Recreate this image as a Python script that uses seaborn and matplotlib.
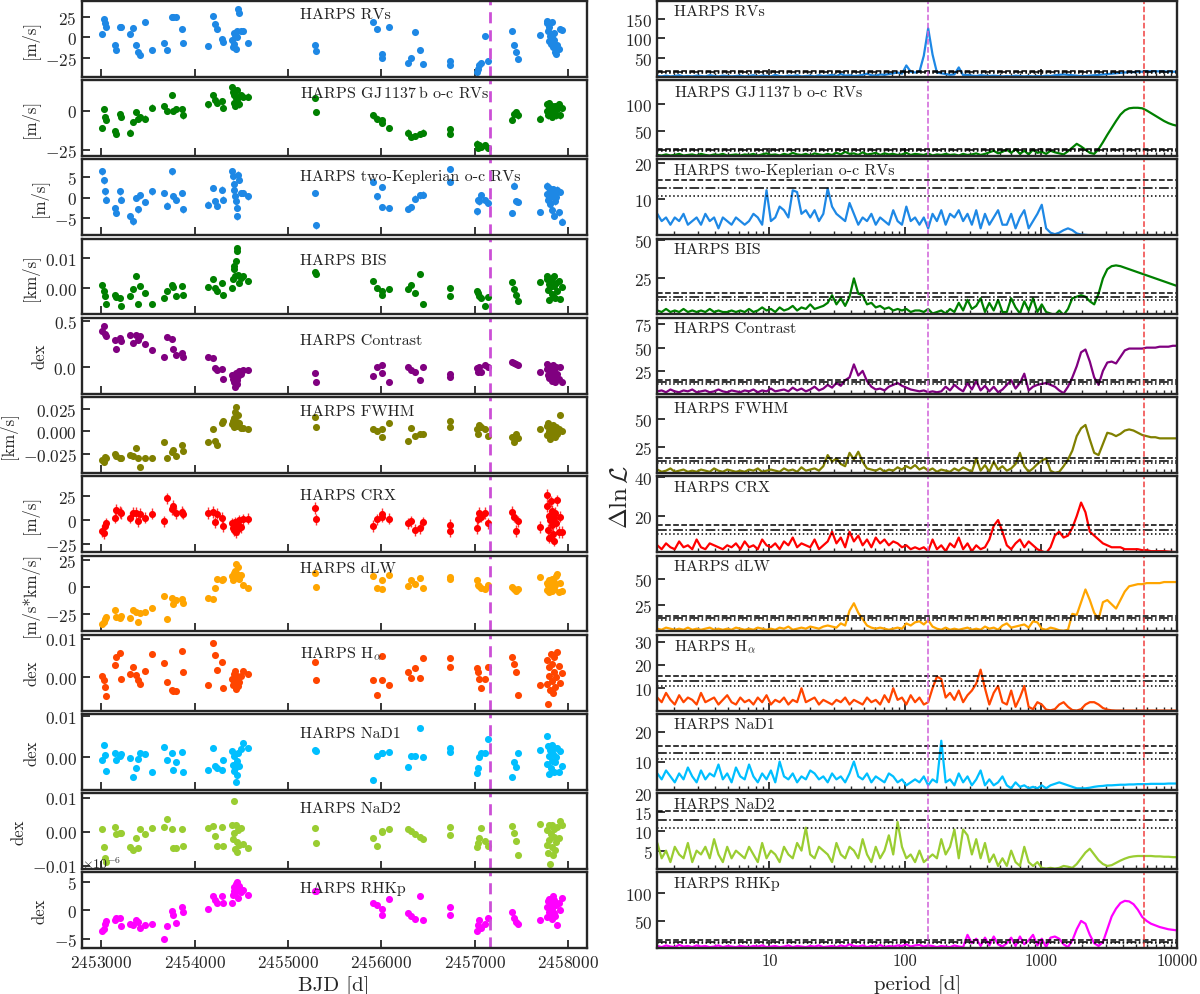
import numpy as np
import pandas as pd
import seaborn as sns
import matplotlib.pyplot as plt
from matplotlib.ticker import MultipleLocator, FuncFormatter

# --- time series (BJD - 2453000) shared by all activity indicators ---
bjd_off = [12, 25, 40, 55, 145, 155, 200, 210, 310, 345, 378, 395, 415, 465, 545,
           676, 700, 755, 770, 797, 862, 880, 1141, 1203, 1215, 1236, 1294, 1307,
           1405, 1412, 1420, 1428, 1436, 1444, 1452, 1460, 1470, 1480, 1494, 1523, 1572,
           2294, 2300, 2917, 2958, 3005, 3010, 3083, 3290, 3319, 3361, 3411, 3452,
           3734, 3740, 4024, 4035, 4050, 4066, 4108, 4141, 4398, 4420, 4440, 4461,
           4701, 4772, 4780, 4788, 4795, 4802, 4810, 4818, 4825, 4832, 4840, 4848,
           4855, 4863, 4872, 4885, 4900, 4920, 4937]

rv = [4, 22, 17, 13, -10, -16, 13, 12, 4, 11, -9, -18, -22, 19, -15,
      -7, -16, 25, 24, 25, 10, -7, -11, 26, 16, 10, -2, -6,
      -3, -12, 5, -8, 3, -14, 7, 0, 34, 30, 8, 7, -7,
      -9, -17, 18, 10, -20, -25, 13, -31, -25, 6, -15, -32,
      -29, -34, -42, -38, -34, -31, 2, -29, 8, -10, -18, -26,
      3, 20, 17, 8, -5, 13, 2, -8, 18, 0, -12, 5, -3, -18, -20, -10, -14, 10, 9]
oc = [-11, 1, -4, -6, -13, -15, -2, -4, -14, -7, -1, -5, -4, -5, 2,
      3, 0, 10, 0, 1, 1, -3, 4, 10, 7, 5, 6, 2,
      15, 12, 10, 5, 3, 8, 13, 6, 9, 4, 10, 9, 9,
      8, -1, -3, -5, -8, -6, -11, -14, -17, -16, -15, -14,
      -12, -15, -21, -24, -22, -23, -22, -24, -6, -2, -1, -3,
      -5, 4, 0, -3, 2, 5, -2, 1, 3, -4, 0, 2, -1, 3, -3, 1, 4, -3, 2]
twok = [6.5, 4.3, 1.6, -0.4, -2.4, -3.7, 1.6, -0.4, -4.5, -5.7, 0.0, -2.8, 0.6, -1.0, 1.6,
        1.2, -1.9, 6.5, 0.4, -0.4, 1.2, -2.8, -1.6, 2.4, -0.8, -2.0, 2.0, -0.4,
        6.5, 5.3, 3.3, 2.0, 0.4, -0.8, -2.4, -4.5, 5.7, 4.5, 1.2, 1.2, 0.4,
        1.2, -6.7, 3.9, 0.4, 2.7, -2.2, -2.4, -2.7, -2.2, -0.2, 0.6, 0.8,
        7.1, 3.9, -3.3, -0.4, -0.8, 0.7, -0.6, -1.2, -3.7, 3.0, -0.8, -1.0,
        -3.4, 3.0, 1.0, -0.5, 2.5, 0.0, -1.5, 1.8, -3.0, 0.5, 2.2, -4.3, 1.2, -0.8, 0.3, 2.0, -3.5, 1.5, -5.8]
bis = [1.3, -0.9, -2.6, -5.3, -2.2, -2.9, -3.1, -5.9, -2.6, -0.3, 4.1, -5.1, 0.8, -1.4, -5.1,
       -3.1, -0.7, 1.0, 0.6, -2.6, 0.8, -2.0, 0.4, 3.0, 0.2, -0.9, 1.9, -2.2,
       0.2, 3.0, 6.3, 7.4, 4.1, 9.1, 12.4, 13.3, 4.6, 1.9, 3.5, 4.1, 2.4,
       5.6, 4.7, 2.4, 0.2, -0.9, -2.0, -0.3, -0.3, 1.3, -1.4, 4.7, -5.1,
       0.2, -2.6, -0.7, -1.4, -2.6, -3.1, -5.9, -2.9, 2.2, -0.3, -2.2, -4.2,
       2.2, 4.0, 3.2, -0.5, 1.5, -3.8, 0.6, 2.8, -1.8, 3.6, -2.5, 0.9, 4.1, -3.2, 1.8, -0.9, 2.6, -3.5, 0.4]
contrast = [0.39, 0.44, 0.36, 0.34, 0.29, 0.20, 0.31, 0.28, 0.35, 0.26, 0.35, 0.29, 0.34, 0.25, 0.19,
            0.11, 0.33, 0.30, 0.20, 0.13, 0.15, 0.11, 0.11, 0.10, -0.01, -0.03, -0.02, -0.12,
            -0.08, -0.12, -0.15, -0.10, -0.21, -0.06, -0.18, -0.13, -0.09, -0.04, -0.07, -0.03, -0.03,
            -0.06, -0.15, -0.09, 0.01, 0.03, -0.06, -0.15, 0.01, -0.03, -0.05, -0.13, 0.00,
            -0.07, -0.10, -0.01, -0.05, 0.01, -0.05, 0.03, 0.01, 0.06, 0.05, 0.04, 0.03,
            -0.05, 0.04, -0.02, -0.08, 0.02, -0.11, -0.04, 0.01, -0.14, -0.06, 0.03, -0.09, -0.02,
            -0.16, 0.00, -0.07, -0.12, 0.01, -0.16]
fwhm = [-32, -34, -28, -30, -25, -27, -30, -29, -26, -27, -18, -30, -39, -30, -30,
        -12, -30, -23, -21, -27, -15, -22, -12, 3, -11, -15, 9, 12,
        8, 12, 5, 15, 22, 27, 10, 6, 18, 9, 4, 4, 3,
        16, 5, 3, 0, -6, 3, 9, -11, 4, -5, -3, -3,
        11, 5, 3, -3, 7, 5, 3, -5, -6, -12, -3, -7,
        3, 6, -4, 9, -2, 0, -8, 4, 2, -5, 7, -1, 1, -6, 5, -3, 3, 18, 0]
crx = [-11, -13, -6, -3, 3, 11, 9, 8, 3, 8, 8, -1, 7, 3, 7,
       -1, 23, 12, 15, 8, 9, 7, 8, 9, -2, 7, 3, -6,
       -3, -8, -5, -10, -2, -12, -6, -4, -9, 0, -7, 1, 2,
       13, 1, -6, 1, 7, 4, 2, -3, -1, -10, -8, -2,
       -5, -11, -8, 2, 8, 4, 8, -3, 9, 4, -11, -1,
       -7, 27, 15, -10, 5, -18, 0, 20, -5, 10, -14, 3, -21, 8, -3, 21, -12, 4, -12]
dlw = [-34, -32, -30, -28, -21, -28, -29, -27, -29, -21, -23, -32, -24, -23, -19,
       -8, -30, -10, -16, -12, -11, -15, -10, -11, -1, 7, 6, 7,
       10, 6, 13, 8, 15, 21, 9, 12, 18, 7, 11, 2, -1,
       13, 0, 10, -1, 6, -2, 11, 1, 6, 3, 8, -1,
       9, 7, 6, 2, 1, -1, -2, 2, 0, -2, -4, -2,
       9, 4, -3, 2, 6, -5, 1, 3, 7, -4, 0, 5, -2, 2, 10, 12, -5, 4, -4]
halpha = [0.4, -0.7, -2.5, -4.8, 3.2, 5.4, 6.3, -0.4, 0.8, 2.8, 0.6, -0.7, -1.6, 1.7, 6.1,
          3.8, -1.1, -3.3, -3.6, -3.4, 6.8, 1.3, -2.0, 8.9, 5.9, 1.9, 4.1, -2.7,
          -0.5, -2.0, 0.8, -1.5, 1.8, -3.0, -0.9, 0.3, -2.2, -1.2, 0.5, 1.7, 0.8,
          3.9, -0.7, -0.7, -4.6, 5.6, -0.7, -2.0, 1.5, -0.1, 2.4, -0.1, 5.0,
          5.0, 2.8, 2.4, 1.5, -0.3, -2.7, -0.5, 2.8, 5.2, 3.4, 1.3, -4.6,
          -2.0, 4.5, -1.8, -6.8, 0.5, 2.8, -3.2, 6.0, -1.0, 3.5, -4.0, 1.5, 5.2, -2.5, 0.2, 6.5, 3.0, -1.5, 1.2]
nad1 = [-0.6, 3.0, 0.6, -3.2, 1.0, -0.6, 0.4, 0.8, -0.2, -4.6, -2.6, -0.4, 1.0, 0.9, -3.4,
        2.5, -0.6, 1.0, -3.0, -1.2, 1.4, -3.4, -3.1, 2.2, -2.0, -2.6, -3.0, -0.7,
        1.5, -1.8, -3.2, 0.4, -2.5, -5.8, -4.2, -0.9, 1.2, -2.0, 2.0, 3.6, 2.2,
        1.8, 1.6, -5.5, 0.4, 1.2, 1.0, 1.4, -2.3, 0.4, 0.4, 7.0, 0.1,
        2.2, 1.4, -3.8, -2.6, 0.2, 1.0, 1.2, 4.4, -4.7, -1.0, -2.2, 1.0,
        1.8, 5.2, -1.5, 2.8, -3.9, 0.4, 1.9, -2.6, 3.1, -0.8, 0.9, -3.5, 2.4, -1.2, 0.0, 2.2, -3.6, 1.6, -2.0]
nad2 = [0.7, -4.4, -7.9, -8.9, 1.4, -0.6, -0.3, -0.5, -4.4, -5.4, -2.0, -4.9, 0.7, -0.8, 1.0,
        1.4, 3.8, 0.7, -4.7, -4.9, 0.7, -4.1, 1.0, 1.7, -1.3, -4.1, 1.4, -4.1,
        1.8, -2.2, 9.0, -0.5, -5.2, 2.0, -3.0, -6.0, 0.5, -3.8, 1.2, -3.7, -4.7,
        1.0, -3.4, -2.0, -4.1, 0.2, 0.0, 0.7, 0.7, 0.2, -0.6, -1.6, -2.3,
        1.4, -1.1, -4.4, -3.4, -2.0, 1.2, -2.8, -4.1, 1.7, -0.3, -2.8, -6.9,
        2.2, 0.5, -3.8, -6.2, 1.8, -2.5, -9.4, -0.8, -4.6, 2.0, -7.0, -1.5, 0.8, -5.5, -3.0, 1.5, -2.0, 3.2, 1.8]
rhk = [-3.7, -3.4, -2.5, -2.0, -1.8, -1.4, -1.4, -2.8, -2.5, -2.7, -1.7, -2.1, -3.1, -2.6, -2.5,
       -5.0, -2.8, -0.2, -0.8, -2.3, 0.6, -0.4, 0.1, 2.4, 1.8, 1.2, 2.4, 1.2,
       1.3, 2.6, 3.4, 4.0, 3.0, 4.6, 5.0, 3.6, 2.2, 4.2, 3.1, 3.5, 2.7,
       3.4, 3.3, 1.2, 0.8, 0.1, -0.8, 1.9, -0.5, -1.1, -1.6, 2.5, -1.8,
       0.6, -0.8, -3.7, -2.7, -1.7, -3.1, -2.4, -1.4, -0.4, -1.4, -2.1, -2.5,
       -1.7, 0.5, -1.2, 1.5, -0.3, 2.0, -0.8, 1.1, -1.5, 0.2, 2.4, -0.6, 1.8, -1.0, 0.8, -2.7, 1.2, 0.0, 2.1]

# --- periodograms, read at 120 log-spaced periods from 1.5 d to 10000 d ---
pg_rv = [3, 2, 4, 2, 3, 5, 2, 3, 2, 4, 3, 2, 5, 3, 2, 4, 3, 2, 3, 4,
         2, 3, 5, 2, 4, 3, 2, 6, 3, 2, 4, 3, 5, 2, 3, 4, 2, 5, 3, 4,
         6, 3, 8, 4, 5, 3, 4, 6, 9, 5, 4, 7, 6, 8, 10, 12, 9, 30, 14, 12,
         14, 55, 125, 58, 12, 10, 8, 6, 7, 25, 5, 6, 4, 3, 5, 4, 3, 4, 3, 2,
         3, 2, 4, 3, 2, 3, 2, 3, 2, 4, 3, 5, 6, 7, 6, 5, 4, 3, 3, 4,
         5, 6, 7, 8, 9, 10, 11, 12, 13, 13, 14, 14, 15, 15, 15, 15, 15, 14, 14, 14]
pg_oc = [4, 3, 5, 3, 4, 6, 3, 4, 5, 3, 6, 4, 3, 5, 4, 6, 3, 4, 5, 3,
         5, 4, 6, 3, 5, 7, 4, 5, 3, 6, 4, 8, 5, 4, 6, 3, 7, 5, 4, 6,
         4, 8, 5, 10, 6, 7, 4, 9, 5, 6, 8, 4, 7, 5, 6, 4, 5, 8, 4, 6,
         5, 4, 7, 3, 5, 4, 6, 4, 5, 3, 6, 4, 5, 7, 4, 6, 9, 12, 7, 10,
         14, 8, 15, 6, 12, 5, 14, 8, 10, 6, 12, 9, 7, 5, 11, 18, 25, 20, 14, 8,
         6, 15, 28, 42, 55, 68, 80, 88, 92, 93, 93, 92, 88, 83, 78, 73, 68, 64, 61, 59]
pg_twok = [6, 4, 5, 3, 5, 4, 6, 3, 4, 5, 3, 6, 4, 5, 2, 5, 4, 3, 5, 4,
           3, 4, 6, 5, 3, 12.5, 4, 5, 8, 7, 5, 12.5, 12, 6, 7, 5, 7, 4, 6, 13,
           8, 6, 5, 4, 9, 6, 3, 5, 4, 6, 3, 5, 4, 3, 7, 4, 3, 8, 4, 5,
           3, 5, 2, 6, 4, 7, 3, 6, 5, 7, 4, 6, 3, 7, 2, 6, 3, 5, 7, 3,
           3, 6, 2, 5, 7, 2, 4, 6, 8.5, 2, 0.8, 0.4, 0.8, 1.5, 2, 1.5, 0.6, 0.3, 0.2, 0.1,
           0.1, 0.1, 0.1, 0.1, 0.1, 0.1, 0.1, 0.1, 0.1, 0.1, 0.1, 0.1, 0.1, 0.1, 0.1, 0.1, 0.1, 0.1, 0.1, 0.1]
pg_bis = [4, 3, 5, 3, 4, 3, 5, 3, 4, 3, 4, 3, 5, 3, 4, 3, 3, 4, 3, 4,
          3, 5, 3, 4, 6, 4, 5, 3, 6, 4, 5, 7, 4, 6, 5, 8, 5, 6, 7, 9,
          14, 8, 12, 7, 13, 25, 15, 14, 8, 9, 6, 7, 5, 6, 4, 5, 4, 5, 3, 4,
          4, 3, 5, 2, 3, 4, 2, 5, 3, 9, 4, 11, 5, 7, 12, 3, 9, 4, 11, 3,
          3, 12, 6, 2, 10, 4, 12, 3, 8, 3, 2, 1, 4, 1, 5, 12, 13, 14, 13, 10,
          8, 15, 25, 31, 33, 33.5, 33, 32, 31, 30, 29, 28, 27, 26, 25, 24, 23, 22, 21, 20]
pg_contrast = [3, 4, 2, 5, 3, 2, 4, 3, 5, 2, 3, 4, 2, 3, 5, 3, 2, 4, 3, 2,
               4, 3, 5, 2, 4, 3, 6, 3, 4, 5, 3, 7, 4, 6, 3, 5, 8, 4, 6, 10,
               7, 12, 9, 15, 18, 32, 20, 25, 14, 8, 5, 6, 4, 8, 10, 12, 9, 7, 5, 4,
               3, 4, 2, 3, 2, 3, 8, 4, 10, 6, 3, 12, 5, 14, 4, 9, 3, 8, 2, 5,
               10, 15, 6, 12, 22, 4, 8, 10, 11, 12, 10, 8, 4, 1, 8, 18, 30, 45, 48, 35,
               18, 10, 25, 34, 35, 33, 40, 47, 49, 49, 49, 49, 50, 50, 50, 51, 51, 51, 52, 52]
pg_fwhm = [5, 3, 4, 6, 3, 4, 5, 3, 4, 3, 5, 4, 3, 6, 4, 3, 5, 4, 3, 4,
           3, 5, 4, 6, 3, 4, 5, 4, 3, 6, 4, 5, 3, 7, 4, 5, 6, 4, 8, 18,
           12, 15, 10, 8, 20, 14, 21, 12, 6, 5, 4, 6, 3, 5, 4, 7, 5, 8, 6, 9,
           5, 7, 4, 6, 3, 5, 4, 3, 6, 4, 7, 5, 3, 15, 4, 9, 3, 12, 5, 8,
           4, 6, 10, 20, 8, 3, 6, 10, 13, 15, 4, 2, 3, 8, 14, 22, 35, 42, 45, 32,
           20, 18, 28, 38, 37, 35, 37, 40, 41, 40, 38, 36, 35, 34, 34, 33, 33, 33, 33, 33]
pg_crx = [5, 3, 6, 4, 3, 7, 4, 5, 3, 8, 4, 3, 6, 5, 4, 3, 5, 4, 6, 3,
          7, 4, 5, 3, 8, 5, 4, 6, 3, 7, 5, 9, 4, 6, 5, 4, 8, 3, 5, 7,
          12, 6, 9, 4, 12, 7, 10, 5, 8, 4, 9, 6, 8, 5, 7, 6, 4, 5, 3, 4,
          3, 4, 2, 8, 3, 5, 2, 6, 4, 9, 3, 6, 2, 5, 3, 4, 8, 15, 18, 12,
          5, 3, 6, 8, 4, 7, 5, 3, 2, 1, 4, 10, 12, 9, 10, 14, 20, 27, 22, 12,
          10, 8, 6, 5, 4, 4, 4, 3, 3, 3, 3, 2.5, 2.5, 2, 2, 2, 2, 1.8, 1.6, 1.5]
pg_dlw = [3, 2, 4, 3, 2, 3, 2, 4, 2, 3, 2, 3, 4, 2, 3, 2, 3, 2, 4, 3,
          2, 3, 2, 4, 3, 2, 3, 2, 4, 3, 5, 2, 3, 4, 3, 5, 4, 3, 5, 6,
          5, 4, 8, 6, 20, 27, 18, 12, 6, 4, 3, 4, 3, 2, 3, 4, 3, 8, 6, 9,
          10, 7, 11, 5, 3, 2, 4, 2, 3, 2, 3, 4, 2, 3, 2, 5, 3, 4, 2, 6,
          8, 4, 5, 6, 7, 4, 10, 9, 3, 2, 4, 3, 1.5, 1, 2, 17, 16, 28, 40, 30,
          18, 12, 28, 30, 26, 22, 30, 38, 43, 44, 45, 45, 46, 46, 46, 46, 47, 47, 47, 47]
pg_halpha = [6, 4, 8, 5, 3, 7, 4, 6, 5, 3, 8, 4, 5, 6, 3, 5, 7, 4, 3, 6,
             4, 5, 3, 6, 4, 7, 3, 5, 4, 6, 3, 5, 4, 10, 4, 5, 6, 3, 5, 4,
             3, 5, 4, 6, 3, 5, 4, 3, 6, 4, 5, 3, 7, 4, 10, 5, 6, 3, 7, 4,
             6, 3, 4, 10, 15, 14, 6, 8, 5, 9, 4, 7, 9, 12, 18, 10, 3, 8, 11, 4,
             3, 9, 2, 6, 11, 2, 1, 4, 3, 0.8, 0.5, 1, 3, 4, 2, 0.6, 0.4, 1, 3, 4,
             4, 3, 1.5, 0.8, 0.5, 0.4, 0.4, 0.4, 0.4, 0.4, 0.4, 0.4, 0.4, 0.4, 0.4, 0.4, 0.4, 0.4, 0.4, 0.4]
pg_nad1 = [6, 4, 7, 5, 3, 6, 4, 8, 5, 3, 7, 4, 6, 5, 9, 4, 6, 3, 8, 5,
           4, 9, 5, 3, 6, 4, 7, 3, 10, 5, 4, 6, 3, 5, 4, 7, 6, 4, 5, 3,
           6, 4, 5, 3, 6, 10, 5, 4, 6, 3, 5, 4, 3, 6, 5, 3, 4, 2, 3, 4,
           3, 5, 2, 4, 3, 17, 3, 4, 2, 6, 3, 5, 2, 4, 7, 2, 4, 2, 3, 5,
           2, 1, 3, 1.5, 2, 1, 1.5, 1, 2, 1, 2, 2.5, 3, 2.5, 2, 1.5, 1, 1, 1, 1.2,
           1.5, 1.7, 1.8, 2, 2, 2.1, 2.2, 2.2, 2.3, 2.3, 2.4, 2.4, 2.4, 2.5, 2.5, 2.5, 2.5, 2.6, 2.6, 2.6]
pg_nad2 = [7, 3, 5, 2, 6, 4, 3, 7, 2, 5, 4, 6, 3, 8, 4, 2, 6, 3, 5, 4,
           3, 6, 4, 2, 7, 3, 5, 4, 2, 6, 4, 3, 7, 5, 11, 4, 3, 6, 5, 4,
           2, 7, 4, 3, 6, 5, 3, 8, 4, 2, 6, 3, 5, 9, 4, 12.5, 6, 3, 4, 2,
           5, 2, 3, 4, 3, 8, 4, 6, 10.5, 3, 10.5, 9, 4, 8, 3, 7, 2, 4, 1, 3,
           1, 5, 2, 1, 6, 2, 1, 2, 0.5, 0.3, 0.5, 0.3, 0.5, 1, 0.8, 0.5, 1.5, 3, 4.5, 5.5,
           4, 2.5, 1.5, 1, 1.2, 1.8, 2.4, 2.9, 3.3, 3.5, 3.6, 3.6, 3.6, 3.6, 3.5, 3.5, 3.4, 3.4, 3.3, 3.3]
pg_rhk = [5, 3, 6, 4, 3, 7, 4, 5, 3, 6, 4, 5, 3, 4, 6, 3, 5, 4, 3, 5,
          4, 3, 5, 4, 6, 3, 4, 5, 3, 4, 6, 3, 5, 4, 3, 5, 4, 6, 3, 4,
          5, 3, 6, 4, 8, 5, 4, 6, 3, 5, 4, 7, 3, 5, 4, 6, 5, 8, 4, 6,
          7, 4, 6, 5, 3, 5, 4, 3, 6, 4, 3, 25, 10, 18, 5, 20, 6, 22, 8, 4,
          10, 20, 5, 22, 8, 15, 25, 6, 18, 3, 20, 22, 18, 8, 3, 15, 35, 50, 45, 25,
          10, 5, 12, 35, 58, 72, 82, 86, 85, 80, 70, 57, 50, 45, 42, 39, 37, 35, 34, 33]

names = ["HARPS RVs", r"HARPS GJ$\,$1137$\,$b o-c RVs", "HARPS two-Keplerian o-c RVs",
         "HARPS BIS", "HARPS Contrast", "HARPS FWHM", "HARPS CRX", "HARPS dLW",
         r"HARPS H$_\alpha$", "HARPS NaD1", "HARPS NaD2", "HARPS RHKp"]
units = ["[m/s]", "[m/s]", "[m/s]", "[km/s]", "dex", "[km/s]", "[m/s]", "[m/s*km/s]",
         "dex", "dex", "dex", "dex"]
colors = ["#1e88e5", "green", "#1e88e5", "green", "purple", "olive", "red", "orange",
          "orangered", "deepskyblue", "yellowgreen", "magenta"]
series = [np.array(rv), np.array(oc), np.array(twok), np.array(bis) * 1e-3,
          np.array(contrast), np.array(fwhm) * 1e-3, np.array(crx), np.array(dlw),
          np.array(halpha) * 1e-3, np.array(nad1) * 1e-3, np.array(nad2) * 1e-3,
          np.array(rhk) * 1e-6]
errors = [2.0, 2.0, 0.8, 0.8e-3, 0.006, 1.5e-3, 6.0, 1.5, 0.3e-3, 0.4e-3, 0.5e-3, 0.25e-6]
pgrams = [pg_rv, pg_oc, pg_twok, pg_bis, pg_contrast, pg_fwhm, pg_crx, pg_dlw,
          pg_halpha, pg_nad1, pg_nad2, pg_rhk]

# axis settings
left_ylim = [(-48, 44), (-29, 19.5), (-9.1, 9.4), (-0.0086, 0.0165), (-0.28, 0.53),
             (-0.046, 0.038), (-33, 46), (-41, 29), (-0.0086, 0.0111), (-0.0078, 0.0105),
             (-0.011, 0.0113), (-6.7e-6, 6.6e-6)]
left_step = [25, 25, 5, 0.01, 0.5, 0.025, 25, 25, 0.01, 0.01, 0.01, 5e-6]
right_ylim = [(1, 195), (2, 145), (0.1, 21), (1.4, 51), (0.5, 82), (2, 70), (1.5, 40.5),
              (0.5, 72), (0.4, 33), (0.5, 26), (0.2, 20), (1, 137)]
right_step = [50, 50, 10, 25, 25, 25, 20, 25, 10, 10, 5, 50]
text_y = [0.82, 0.84, 0.78, 0.71, 0.70, 0.82, 0.75, 0.84, 0.76, 0.75, 0.80, 0.79]
thresholds = [(15.3, "--"), (13.0, "-."), (10.8, ":")]

sns.set_style("ticks")
plt.rcParams["font.family"] = ["cmr10", "DejaVu Serif"]
plt.rcParams["mathtext.fontset"] = "cm"
plt.rcParams["axes.formatter.use_mathtext"] = True
plt.rcParams["axes.unicode_minus"] = True

t = 2453000 + np.array(bjd_off)
n_grid = len(pg_rv)
period = np.geomspace(1.5, 10000, n_grid)

fig = plt.figure(figsize=(12, 9.95), dpi=100)
gs = fig.add_gridspec(12, 2, left=0.068, right=0.981, top=0.998, bottom=0.046,
                      hspace=0.045, wspace=0.138, width_ratios=[508, 523])

for i in range(12):
    axl = fig.add_subplot(gs[i, 0])
    axr = fig.add_subplot(gs[i, 1])
    c = colors[i]

    # left: time series
    df = pd.DataFrame({"t": t, "y": series[i]})
    axl.errorbar(df["t"], df["y"], yerr=errors[i], fmt="none", ecolor=c, elinewidth=1, alpha=0.8)
    sns.scatterplot(data=df, x="t", y="y", ax=axl, color=c, s=26, linewidth=0, legend=False)
    axl.axvline(2457160, color="#cc4fd6", ls="--", lw=2, dashes=(4, 2.5))
    axl.set_xlim(2452790, 2458200)
    axl.set_ylim(*left_ylim[i])
    axl.yaxis.set_major_locator(MultipleLocator(left_step[i]))
    axl.xaxis.set_major_locator(MultipleLocator(1000))
    axl.ticklabel_format(axis="x", style="plain", useOffset=False)
    axl.set_ylabel(units[i], fontsize=12)
    axl.set_xlabel("")
    axl.text(0.432, text_y[i], names[i], transform=axl.transAxes, fontsize=11.5,
             va="center", ha="left", color="#222222")

    # right: periodogram
    dp = pd.DataFrame({"period": period, "power": pgrams[i]})
    sns.lineplot(data=dp, x="period", y="power", ax=axr, color=c, lw=1.6)
    for lev, ls in thresholds:
        axr.axhline(lev, color="black", ls=ls, lw=1.1)
    axr.axvline(147, color="#d060d8", ls="--", lw=1.1)
    axr.axvline(5700, color="#f04040", ls="--", lw=1.1)
    axr.set_xscale("log")
    axr.set_xlim(1.5, 10000)
    axr.set_ylim(*right_ylim[i])
    axr.yaxis.set_major_locator(MultipleLocator(right_step[i]))
    axr.xaxis.set_major_formatter(FuncFormatter(lambda v, p: f"{v:g}"))
    axr.set_xlabel("")
    axr.set_ylabel("")
    axr.text(0.033, 0.86, names[i], transform=axr.transAxes, fontsize=11.5,
             va="center", ha="left", color="#222222")

    for ax in (axl, axr):
        for sp in ax.spines.values():
            sp.set_linewidth(1.7)
        ax.tick_params(axis="both", which="major", direction="in", length=6, width=1.3,
                       labelsize=12.5)
        ax.tick_params(axis="both", which="minor", direction="in", length=3, width=1)
        if i < 11:
            ax.tick_params(axis="x", labelbottom=False)

    if i == 11:
        axl.set_xlabel("BJD [d]", fontsize=15)
        axr.set_xlabel("period [d]", fontsize=15)
        axr.tick_params(axis="x", labelsize=12)

fig.text(0.517, 0.5, r"$\Delta\ln\mathcal{L}$", rotation=90, fontsize=18,
         ha="center", va="center")

plt.savefig("out.png", dpi=100)
